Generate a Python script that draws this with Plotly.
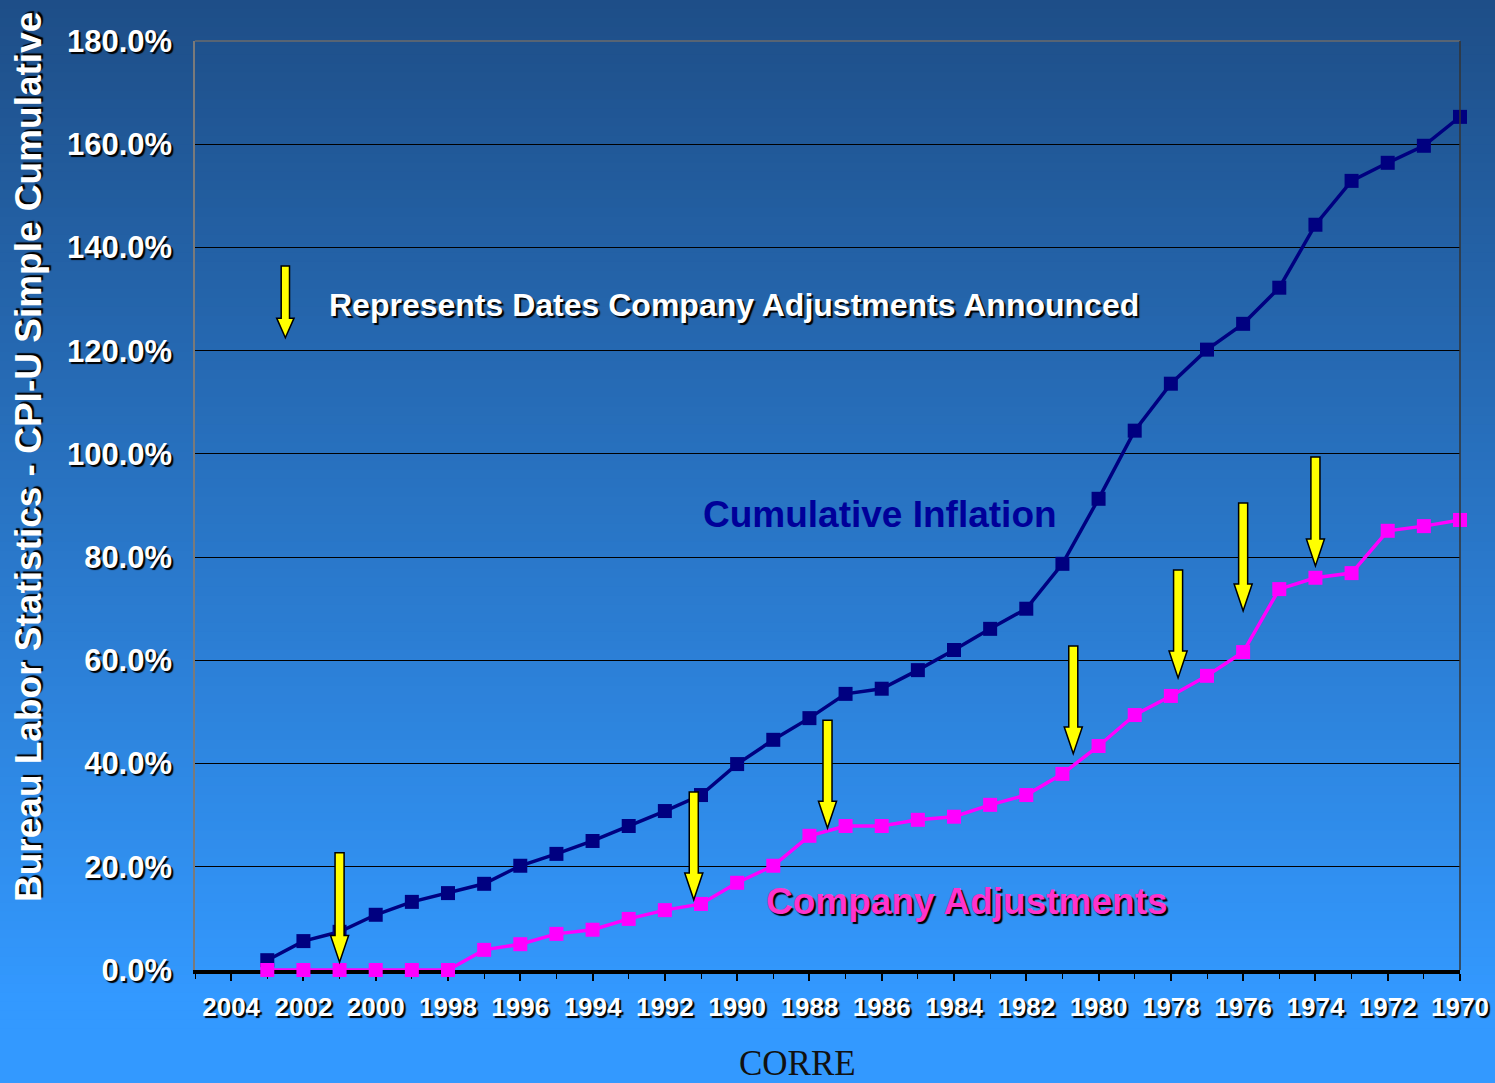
import plotly.graph_objects as go

# ---------------- data ----------------
years = [2003, 2002, 2001, 2000, 1999, 1998, 1997, 1996, 1995, 1994, 1993, 1992,
         1991, 1990, 1989, 1988, 1987, 1986, 1985, 1984, 1983, 1982, 1981, 1980,
         1979, 1978, 1977, 1976, 1975, 1974, 1973, 1972, 1971, 1970]
cumulative_inflation = [1.9, 5.6, 7.4, 10.7, 13.2, 14.9, 16.7, 20.2, 22.5, 25.0, 27.9, 30.8,
                        33.9, 39.9, 44.6, 48.8, 53.5, 54.5, 58.1, 62.0, 66.1, 70.0, 78.7, 91.3,
                        104.5, 113.6, 120.2, 125.2, 132.2, 144.4, 152.9, 156.4, 159.7, 165.3]
company_adjustments = [0, 0, 0, 0, 0, 0, 3.9, 5.0, 7.0, 7.8, 9.9, 11.6,
                       12.8, 16.9, 20.2, 26.0, 27.9, 27.9, 29.1, 29.7, 32.0, 33.9, 38.0, 43.4,
                       49.4, 53.1, 57.0, 61.6, 73.8, 76.0, 76.9, 85.1, 86.0, 87.2]
x_tick_years = [2004, 2002, 2000, 1998, 1996, 1994, 1992, 1990, 1988, 1986,
                1984, 1982, 1980, 1978, 1976, 1974, 1972, 1970]
y_ticks = [0, 20, 40, 60, 80, 100, 120, 140, 160, 180]

# announcement arrows: (year, top value, tip value)
arrow_years = [2001.0, 1991.2, 1987.5, 1980.7, 1977.8, 1976.0, 1974.0]
arrow_tops = [22.7, 34.5, 48.4, 62.8, 77.5, 90.5, 99.4]
arrow_tips = [1.5, 13.6, 27.5, 41.9, 56.6, 69.6, 78.3]
legend_arrow = (2002.5, 136.4, 122.5)

FONT = "Liberation Sans, Arial, sans-serif"
SHADOW = "2px 2px 1px #000000"

fig = go.Figure()

# ---------------- background gradient ----------------
H = 1083.0
top_rgb = (30, 78, 135)
bot_rgb = (51, 153, 255)
n_strips = 120
for i in range(n_strips):
    p0 = i * H / n_strips
    p1 = (i + 1) * H / n_strips + 1
    t = min(1.0, (p0 + p1) / 2 / 1000.0)
    c = tuple(int(round(top_rgb[k] + (bot_rgb[k] - top_rgb[k]) * t)) for k in range(3))
    fig.add_shape(type="rect", xref="paper", yref="paper",
                  x0=-0.2, x1=1.1, y0=(970 - p1) / 929.0, y1=(970 - p0) / 929.0,
                  fillcolor="rgb(%d,%d,%d)" % c, line=dict(width=0), layer="below")

# ---------------- series ----------------
fig.add_trace(go.Scatter(x=years, y=cumulative_inflation, mode="lines+markers",
                         line=dict(color="#000080", width=3.5),
                         marker=dict(symbol="square", size=14, color="#000080"),
                         cliponaxis=False, name="Cumulative Inflation"))
fig.add_trace(go.Scatter(x=years, y=company_adjustments, mode="lines+markers",
                         line=dict(color="#ff00ff", width=3.5),
                         marker=dict(symbol="square", size=14, color="#ff00ff"),
                         cliponaxis=False, name="Company Adjustments"))


def arrow_path(xc, yt, yb, hw=0.125, hh=0.25, hl=5.2):
    pts = [(xc - hw, yt), (xc + hw, yt), (xc + hw, yb + hl), (xc + hh, yb + hl),
           (xc, yb), (xc - hh, yb + hl), (xc - hw, yb + hl)]
    return "M " + " L ".join("%.4f,%.4f" % p for p in pts) + " Z"


for xc, yt, yb in zip(arrow_years, arrow_tops, arrow_tips):
    fig.add_shape(type="path", xref="x", yref="y", path=arrow_path(xc, yt, yb),
                  fillcolor="#ffff00", line=dict(color="#000000", width=1.5), layer="above")
fig.add_shape(type="path", xref="x", yref="y",
              path=arrow_path(legend_arrow[0], legend_arrow[1], legend_arrow[2], hw=0.115, hh=0.24, hl=3.8),
              fillcolor="#ffff00", line=dict(color="#000000", width=1.5), layer="above")

# plot border (top gray, right dark)
fig.add_shape(type="line", xref="paper", yref="paper", x0=0, x1=1, y0=1, y1=1,
              line=dict(color="#6b6b6b", width=1.5), layer="above")
fig.add_shape(type="line", xref="paper", yref="paper", x0=1, x1=1, y0=0, y1=1,
              line=dict(color="#333333", width=1.5), layer="above")

# ---------------- annotations ----------------
fig.add_annotation(x=2001.35, y=128.8, xref="x", yref="y", xanchor="left", yanchor="middle",
                   text="<b>Represents Dates Company Adjustments Announced</b>", showarrow=False,
                   font=dict(family=FONT, size=32, color="white", shadow=SHADOW))
fig.add_annotation(x=1991.0, y=88.3, xref="x", yref="y", xanchor="left", yanchor="middle",
                   text="<b>Cumulative Inflation</b>", showarrow=False,
                   font=dict(family=FONT, size=37, color="#000099"))
fig.add_annotation(x=1989.25, y=13.2, xref="x", yref="y", xanchor="left", yanchor="middle",
                   text="<b>Company Adjustments</b>", showarrow=False,
                   font=dict(family=FONT, size=37, color="#ff33cc", shadow=SHADOW))
fig.add_annotation(x=(28 - 195) / 1265.0, y=(970 - 457) / 929.0, xref="paper", yref="paper",
                   xanchor="center", yanchor="middle", textangle=-90,
                   text="<b>Bureau Labor Statistics - CPI-U Simple Cumulative</b>", showarrow=False,
                   font=dict(family=FONT, size=37, color="white", shadow=SHADOW))
fig.add_annotation(x=(797 - 195) / 1265.0, y=(970 - 1063) / 929.0, xref="paper", yref="paper",
                   xanchor="center", yanchor="middle", text="CORRE", showarrow=False,
                   font=dict(family="Liberation Serif, Times New Roman, serif", size=35, color="#111111"))

# ---------------- layout ----------------
fig.update_layout(
    width=1495, height=1083,
    margin=dict(l=195, r=35, t=41, b=113, autoexpand=False),
    paper_bgcolor="rgb(51,153,255)",
    plot_bgcolor="rgba(0,0,0,0)",
    showlegend=False,
    xaxis=dict(range=[2005, 1970], tickmode="array", tickvals=x_tick_years,
               ticktext=[str(y) for y in x_tick_years], automargin=False,
               tickfont=dict(family=FONT, size=26, color="white", shadow=SHADOW, weight="bold"),
               showgrid=False, zeroline=False, layer="below traces",
               showline=True, linecolor="#000000", linewidth=3.5,
               ticks="outside", ticklen=7, tickcolor="#000000", tickwidth=1.5,
               minor=dict(dtick=1, ticks="outside", ticklen=5, tickcolor="#000000", tickwidth=1),
               ticklabelstandoff=4),
    yaxis=dict(range=[0, 180], tickmode="array", tickvals=y_ticks,
               ticktext=["%.1f%%" % v for v in y_ticks], automargin=False,
               tickfont=dict(family=FONT, size=31, color="white", shadow=SHADOW, weight="bold"),
               showgrid=True, gridcolor="#000000", gridwidth=1, zeroline=False,
               showline=True, linecolor="#7a7a7a", linewidth=1.5,
               ticks="inside", ticklen=6, tickcolor="#000000",
               ticklabelstandoff=15),
)

fig.write_html("out.html", config={"displayModeBar": False},
               post_script="document.body.style.margin='0px';document.body.style.overflow='hidden';")
